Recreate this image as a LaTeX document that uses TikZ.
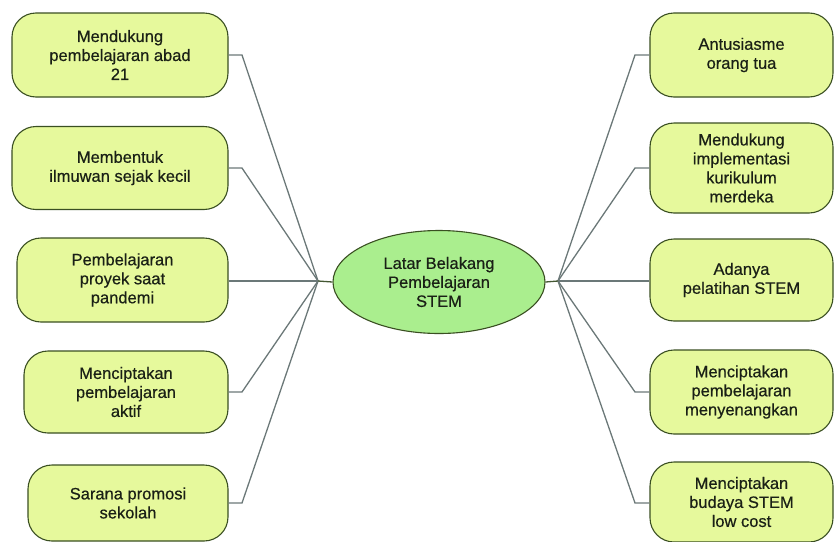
\documentclass[tikz,border=0pt]{standalone}
\usepackage{fontspec}
\setmainfont{Liberation Sans}
\newfontfamily\lblfont{Liberation Sans}[FakeBold=0.5]
\usetikzlibrary{shapes.geometric}
\definecolor{boxfill}{HTML}{E6F99C}
\definecolor{hubfill}{HTML}{AAEE8E}
\definecolor{edge}{HTML}{3A4F22}
\definecolor{wire}{HTML}{6B7878}
\definecolor{ink}{HTML}{1A2016}
\begin{document}
\begin{tikzpicture}[x=1pt,y=-1pt,
  leaf/.style={draw=edge, line width=1.1pt, fill=boxfill, rounded corners=24pt,
    align=center, inner sep=0pt, text=ink,
    font=\lblfont\fontsize{16.5}{19}\selectfont},
  hub/.style={ellipse, draw=edge, line width=1.1pt, fill=hubfill, align=center,
    inner sep=0pt, minimum width=212pt, minimum height=103pt, text=ink,
    font=\lblfont\fontsize{16.5}{19}\selectfont},
  wireline/.style={draw=wire, line width=1.3pt}]
\useasboundingbox (0,0) rectangle (835,541);
% left leaves
\node[leaf, minimum width=216pt, minimum height=84pt] (l1) at (120,55) {Mendukung\\pembelajaran abad\\21};
\node[leaf, minimum width=216pt, minimum height=83pt] (l2) at (120,168) {Membentuk\\ilmuwan sejak kecil};
\node[leaf, minimum width=211pt, minimum height=84pt] (l3) at (122.5,280) {Pembelajaran\\proyek saat\\pandemi};
\node[leaf, minimum width=204pt, minimum height=82pt] (l4) at (126,392) {Menciptakan\\pembelajaran\\aktif};
\node[leaf, minimum width=200pt, minimum height=76pt] (l5) at (128,503) {Sarana promosi\\sekolah};
% right leaves
\node[leaf, minimum width=183pt, minimum height=84pt] (r1) at (741.5,55) {Antusiasme\\orang tua};
\node[leaf, minimum width=183pt, minimum height=90pt] (r2) at (741.5,168) {Mendukung\\implementasi\\kurikulum\\merdeka};
\node[leaf, minimum width=183pt, minimum height=82pt] (r3) at (741.5,280) {Adanya\\pelatihan STEM};
\node[leaf, minimum width=183pt, minimum height=84pt] (r4) at (741.5,392) {Menciptakan\\pembelajaran\\menyenangkan};
\node[leaf, minimum width=183pt, minimum height=80pt] (r5) at (741.5,502) {Menciptakan\\budaya STEM\\low cost};
% centre
\node[hub] (c) at (439,282) {Latar Belakang\\Pembelajaran\\STEM};
% junctions
\coordinate (hl) at (318,281);
\coordinate (hr) at (558,281);
\foreach \n/\y in {l1/55,l2/168,l4/392,l5/503}{
  \coordinate (s\n) at (242,\y);
  \draw[wireline] (\n.east |- 0,\y) -- (s\n) -- (hl);
}
\draw[wireline] (l3.east |- 0,281) -- (hl);
\foreach \n/\y in {r1/55,r2/168,r4/392,r5/503}{
  \coordinate (s\n) at (635,\y);
  \draw[wireline] (\n.west |- 0,\y) -- (s\n) -- (hr);
}
\draw[wireline] (r3.west |- 0,281) -- (hr);
\draw[wireline, draw=edge!80!wire] (hl) -- (c.west);
\draw[wireline, draw=edge!80!wire] (c.east) -- (hr);
\end{tikzpicture}
\end{document}
